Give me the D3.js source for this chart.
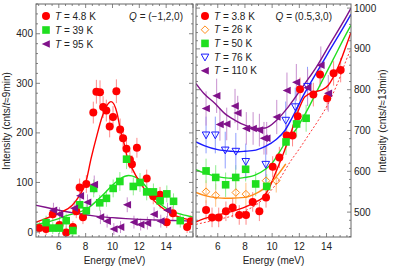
<!DOCTYPE html>
<html><head><meta charset="utf-8">
<script src="https://cdn.jsdelivr.net/npm/d3@7"></script>
<style>body{margin:0;background:#fff}svg text{font-family:"Liberation Sans",Arial,sans-serif;fill:#222}</style>
</head><body><svg id="c" width="395" height="267"></svg>
<script>
// ---------- LEFT PANEL DATA: Q=(-1,2,0) ----------
const L_red_E   = [4.55,5.05,5.55,6.05,6.55,7.05,7.3,7.55,7.8,8.05,8.57,8.8,9.07,9.3,9.54,9.79,10.04,10.29,10.57,10.79,11.04,11.3,11.45,11.82,12.55,13.04,13.54,14.04,14.5,15.56,15.84];
const L_red_I   = [8,6,36,14,-1,10,42,90,30,97,241,283,282,252,245,213,232,284,207,189,168,146,137,170,108,72,75,20,38,10,22];
const L_red_err = [12,12,14,12,12,12,14,18,14,18,22,24,24,22,22,22,22,24,22,20,20,18,18,20,18,16,16,12,14,12,12];
const L_grn_E   = [5.05,5.55,6.05,6.55,7.05,7.55,8.05,8.6,9.05,9.55,10.05,10.55,11.05,11.55,12.05,12.55,13.05,13.55,14.05,14.55,15.05];
const L_grn_I   = [19,8,8,23,3,55,43,88,59,68,88,102,147,92,100,81,81,63,77,62,23];
const L_grn_err = [14,12,12,14,12,16,15,18,16,17,18,19,20,18,19,17,17,16,17,16,14];
const L_pur_E   = [5.6,6.05,7.15,7.6,8.14,8.64,9.1,9.6,10.1,10.6,11.1,11.6,12.1,12.6,13.1,13.6,14.1];
const L_pur_I   = [44,36,48,73,60,96,30,22,6,10,55,20,15,18,36,22,44];
const L_pur_err = [15,14,15,17,16,18,14,13,12,12,15,13,12,13,14,13,15];
// fit curves
const L_redFit_E = [4.3,5,6,7,7.5,8,8.42,8.84,9.2,9.54,9.9,10.34,10.59,10.89,11.09,11.47,12.09,12.84,13.59,14.58,15.84,16];
const L_redFit_I = [20,27,38,54,72,99,150,195,230,253,263,240,206,176,152,128,98,71,51,34,24,23];
const L_grnFit_E = [4.3,5,6,6.6,7.5,8.1,9.1,10.1,10.6,11.2,11.7,12.1,12.6,13.1,13.6,14.1,15.1,16];
const L_grnFit_I = [15,19,27,33,40,47,70,97,108,114,111,104,88,70,56,46,36,30];
const L_purFit_E = [4.3,5,6,7,8,9,10,11,12,13,14,15,16];
const L_purFit_I = [54,50,44,39,35,31,29,27,25.5,24.5,23.5,23,22];

// ---------- RIGHT PANEL DATA: Q=(0.5,3,0) ----------
const R_red_E   = [5.14,5.58,6.07,6.6,7.1,7.58,8.08,8.57,9.06,9.55,10.04,10.53,11.07,11.5,11.88,12.05,13.03,13.52,14.05,14.52,15.04];
const R_red_I   = [505,487,487,502,511,493,493,525,502,536,611,634,688,688,735,801,788,837,779,840,848];
const R_red_err = [24,24,24,24,24,24,24,24,24,25,26,26,27,27,28,29,29,30,29,30,30];
const R_org_E   = [5.14,5.85,7.33,8.07,9.55,10.3];
const R_org_I   = [550,541,548,544,577,577];
const R_org_err = [28,28,28,28,29,29];
const R_grn_E   = [5.14,5.85,6.58,7.32,8.05,8.79,9.6,11.02,11.8,12.5];
const R_grn_I   = [601,585,567,585,605,569,563,672,716,730];
const R_grn_err = [30,30,30,30,30,30,30,32,33,33];
const R_blu_E   = [5.14,5.82,6.55,7.33,8.06,9.53,11.0,11.7,12.6];
const R_blu_I   = [689,689,652,649,624,617,725,758,808];
const R_blu_err = [45,45,45,45,44,44,46,47,48];
const R_pur_E   = [5.14,5.92,6.16,6.66,7.27,7.47,8.1,8.6,9.06,9.4,9.6,10.34,11.09,11.78,12.61,13.58,14.13];
const R_pur_I   = [754,785,715,716,760,743,705,705,701,681,681,733,798,818,805,860,791];
const R_pur_err = [42,42,40,40,42,42,40,40,40,40,40,42,44,45,45,46,45];
// fit curves
const R_redFit_E = [4.4,5,6,7,8,8.8,9.3,9.8,10.3,10.9,11.45,12,12.41,13.15,13.7,14.13,14.86,15.6,15.8];
const R_redFit_I = [476,484,493,501,512,525,535,560,600,650,701,755,783,795,800,811,856,922,940];
const R_dashFit_E = [4.4,6,7,8,9,9.84,10.5,11.3,12,12.7,13.4,14.13,14.8,15.6,15.8];
const R_dashFit_I = [470,482,490,503,522,550,578,622,655,690,725,766,815,885,900];
const R_orgFit_E = [4.4,5,6,6.5,7,8,8.5,9,9.5,10,10.5,11];
const R_orgFit_I = [548,541,535,534,534,536,541,549,560,575,595,618];
const R_grnFit_E = [4.4,5,6,7,7.5,8,8.7,9.5,10,10.5,11,11.7,12.5,13.5,14.5,15.6,15.8];
const R_grnFit_I = [604,596,587,583,583,585,590,605,620,645,672,700,745,810,875,946,958];
const R_bluFit_E = [4.4,5,6,7,7.5,8,8.8,9.5,10.3,10.94,11.5,12.4,13.2,14.1,15.7,15.8];
const R_bluFit_I = [672,663,653,649,648,649,652,661,678,700,733,792,838,889,979,985];
const R_purFit_E = [4.4,5,5.8,6.5,7.27,8,8.9,9.5,10.33,11.19,12.41,13.3,14.13,15.72,15.8];
const R_purFit_I = [815,790,766,742,725,713,705,706,725,758,815,858,905,995,1000];

const leftTicksY = [0,100,200,300,400];
const rightTicksY = [500,600,700,800,900,1000];
const ticksX = [6,8,10,12,14];
const leftLegend = ["4.8 K","39 K","95 K"];
const rightLegend = ["3.8 K","26 K","50 K","76 K","110 K"];

// ---------- drawing ----------
const svg = d3.select("#c");
const C = {red:"#ff0000",redE:"#ff8a8a",grn:"#1fdf1f",grnE:"#90ee90",pur:"#80128a",purE:"#c890cf",blu:"#1a1aff",bluE:"#8f9fff",org:"#ff8c1a",orgE:"#ffc080"};

function zip(E,I,err){return E.map((e,i)=>({e,v:I[i],s:err?err[i]:0}));}

function marker(g,type,x,y,col){
  const s=3.8;
  if(type==="circle") g.append("circle").attr("cx",x).attr("cy",y).attr("r",s+0.2).attr("fill",col);
  else if(type==="square") g.append("rect").attr("x",x-s).attr("y",y-s).attr("width",2*s).attr("height",2*s).attr("fill",col);
  else if(type==="left") g.append("path").attr("d",`M${x-s-0.5},${y}L${x+s},${y-s}L${x+s},${y+s}Z`).attr("fill",col);
  else if(type==="diamond") g.append("path").attr("d",`M${x},${y-s}L${x+s},${y}L${x},${y+s}L${x-s},${y}Z`).attr("fill","none").attr("stroke",col).attr("stroke-width",1);
  else if(type==="down") g.append("path").attr("d",`M${x-s},${y-s+0.8}L${x+s},${y-s+0.8}L${x},${y+s}Z`).attr("fill","none").attr("stroke",col).attr("stroke-width",1);
}

function panel(cfg){
  const x=d3.scaleLinear().domain(cfg.xd).range([cfg.x0,cfg.x1]);
  const y=d3.scaleLinear().domain(cfg.yd).range([237,4]);
  const id="clip"+cfg.name;
  svg.append("clipPath").attr("id",id).append("rect").attr("x",cfg.x0).attr("y",4).attr("width",cfg.x1-cfg.x0).attr("height",233);
  const g=svg.append("g").attr("clip-path",`url(#${id})`);
  // error bars
  cfg.series.forEach(s=>{
    zip(s.E,s.I,s.err).forEach(d=>{
      g.append("line").attr("x1",x(d.e)).attr("x2",x(d.e)).attr("y1",y(d.v-d.s)).attr("y2",y(d.v+d.s)).attr("stroke",s.ce).attr("stroke-width",1);
    });
  });
  // fits
  const line=d3.line().x(d=>x(d.e)).y(d=>y(d.v)).curve(d3.curveMonotoneX);
  cfg.fits.forEach(f=>{
    g.append("path").attr("d",line(zip(f.E,f.I))).attr("fill","none").attr("stroke",f.c).attr("stroke-width",f.w||1.4).attr("stroke-dasharray",f.dash||null);
  });
  // points
  cfg.series.forEach(s=>{
    zip(s.E,s.I,s.err).forEach(d=>marker(g,s.m,x(d.e),y(d.v),s.c));
  });
  // frame
  svg.append("rect").attr("x",cfg.x0).attr("y",4).attr("width",cfg.x1-cfg.x0).attr("height",233).attr("fill","none").attr("stroke","#666").attr("stroke-width",1);
  const fr=svg.append("g").attr("stroke","#666").attr("stroke-width",0.8);
  const xmin=Math.ceil(cfg.xd[0]*2)/2;
  for(let t=xmin;t<=cfg.xd[1]+1e-9;t+=0.5){
    const major=Math.abs(t/2-Math.round(t/2))<1e-6; const len=major?4:2;
    fr.append("line").attr("x1",x(t)).attr("x2",x(t)).attr("y1",237).attr("y2",237-len);
    fr.append("line").attr("x1",x(t)).attr("x2",x(t)).attr("y1",4).attr("y2",4+len);
  }
  for(let t=Math.ceil(cfg.yd[0]/20)*20;t<=cfg.yd[1];t+=20){
    const major=t%100===0; const len=major?4:2;
    fr.append("line").attr("x1",cfg.x0).attr("x2",cfg.x0+len).attr("y1",y(t)).attr("y2",y(t));
    fr.append("line").attr("x1",cfg.x1).attr("x2",cfg.x1-len).attr("y1",y(t)).attr("y2",y(t));
  }
  ticksX.forEach(t=>svg.append("text").attr("x",x(t)).attr("y",249.5).attr("text-anchor","middle").attr("font-size",10).text(t));
  cfg.yt.forEach(t=>svg.append("text").attr("x",cfg.side==="left"?cfg.x0-3:cfg.x1+3).attr("y",y(t)+3.5).attr("text-anchor",cfg.side==="left"?"end":"start").attr("font-size",10).text(t));
  svg.append("text").attr("x",(cfg.x0+cfg.x1)/2).attr("y",264).attr("text-anchor","middle").attr("font-size",10).text("Energy (meV)");
  const yl=svg.append("text").attr("transform",`translate(${cfg.ylx},121) rotate(-90)`).attr("text-anchor","middle").attr("font-size",10);
  yl.append("tspan").text("Intensity (cnts/");
  yl.append("tspan").attr("font-style","italic").text("t");
  yl.append("tspan").text(cfg.ylt);
  cfg.series.forEach((s,i)=>{
    const ly=16+i*cfg.ls;
    marker(svg,s.m,cfg.lx,ly,s.c);
    const t=svg.append("text").attr("x",cfg.lx+9).attr("y",ly+3.5).attr("font-size",10);
    t.append("tspan").attr("font-style","italic").text("T");
    t.append("tspan").text(" = "+cfg.leg[i]);
  });
  const q=svg.append("text").attr("x",cfg.qx).attr("y",19.5).attr("text-anchor","end").attr("font-size",10);
  q.append("tspan").attr("font-style","italic").text("Q");
  q.append("tspan").text(" = "+cfg.qt);
}

panel({name:"L",x0:36,x1:193,xd:[4.3,16],yd:[-10,460],side:"left",yt:leftTicksY,ylx:10,ylt:"≈9min)",
  lx:46,ls:14,leg:leftLegend,qx:183,qt:"(−1,2,0)",
  series:[
    {E:L_red_E,I:L_red_I,err:L_red_err,c:C.red,ce:C.redE,m:"circle"},
    {E:L_grn_E,I:L_grn_I,err:L_grn_err,c:C.grn,ce:C.grnE,m:"square"},
    {E:L_pur_E,I:L_pur_I,err:L_pur_err,c:C.pur,ce:C.purE,m:"left"}],
  fits:[{E:L_purFit_E,I:L_purFit_I,c:C.pur},{E:L_grnFit_E,I:L_grnFit_I,c:C.grn},{E:L_redFit_E,I:L_redFit_I,c:C.red}]
});
panel({name:"R",x0:196,x1:351,xd:[4.4,15.8],yd:[439,1010],side:"right",yt:rightTicksY,ylx:386,ylt:"≈13min)",
  lx:205,ls:13.7,leg:rightLegend,qx:332,qt:"(0.5,3,0)",
  series:[
    {E:R_red_E,I:R_red_I,err:R_red_err,c:C.red,ce:C.redE,m:"circle"},
    {E:R_org_E,I:R_org_I,err:R_org_err,c:C.org,ce:C.orgE,m:"diamond"},
    {E:R_grn_E,I:R_grn_I,err:R_grn_err,c:C.grn,ce:C.grnE,m:"square"},
    {E:R_blu_E,I:R_blu_I,err:R_blu_err,c:C.blu,ce:C.bluE,m:"down"},
    {E:R_pur_E,I:R_pur_I,err:R_pur_err,c:C.pur,ce:C.purE,m:"left"}],
  fits:[{E:R_dashFit_E,I:R_dashFit_I,c:C.red,w:0.8,dash:"2,2"},{E:R_purFit_E,I:R_purFit_I,c:C.pur},{E:R_bluFit_E,I:R_bluFit_I,c:C.blu},
        {E:R_grnFit_E,I:R_grnFit_I,c:C.grn},{E:R_orgFit_E,I:R_orgFit_I,c:C.org},{E:R_redFit_E,I:R_redFit_I,c:C.red}]
});
</script></body></html>
